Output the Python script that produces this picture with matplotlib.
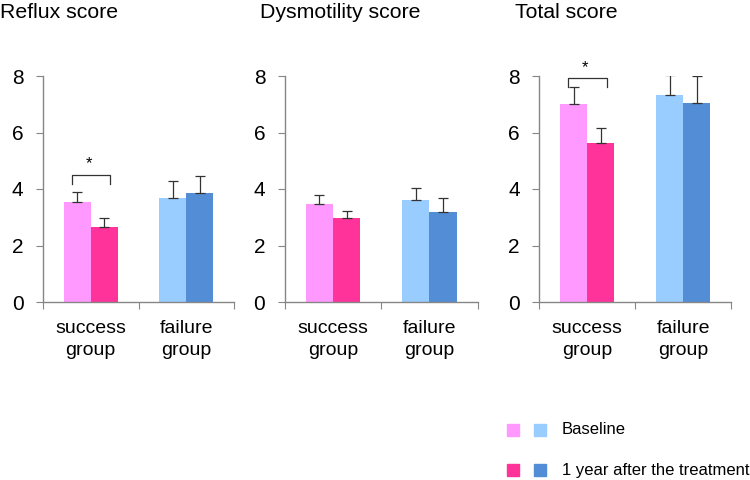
import matplotlib
matplotlib.use("Agg")
import matplotlib.pyplot as plt
import numpy as np

plt.rcParams['font.family'] = ['Liberation Sans', 'DejaVu Sans']

titles = ["Reflux score", "Dysmotility score", "Total score"]
categories = ["success\ngroup", "failure\ngroup"]
series = ["Baseline", "1 year after the treatment"]

# means [panel][group] for baseline and after
baseline = [[3.54, 3.69], [3.47, 3.61], [7.02, 7.34]]
after = [[2.67, 3.85], [2.96, 3.19], [5.64, 7.06]]
baseline_err = [[0.34, 0.58], [0.31, 0.44], [0.60, 0.71]]
after_err = [[0.29, 0.60], [0.27, 0.48], [0.53, 0.95]]
yticks = [0, 2, 4, 6, 8]

col_base = ["#FF99FF", "#99CCFF"]
col_after = ["#FF3399", "#538DD5"]
axcol = "#868686"

fig = plt.figure(figsize=(7.5, 4.8), dpi=100)
lefts = [43, 284.7, 539.3]
rights = [234, 477.7, 731]
bottom = 1 - 302 / 480
height = (302 - 76) / 480
title_x = [0, 260, 515]
w = 0.283

for i in range(3):
    ax = fig.add_axes([lefts[i] / 750, bottom, (rights[i] - lefts[i]) / 750, height])
    x = np.arange(len(categories))
    for g in range(2):
        xb = x[g] - w / 2
        xa = x[g] + w / 2
        ax.bar(xb, baseline[i][g], width=w, color=col_base[g], zorder=2)
        ax.bar(xa, after[i][g], width=w, color=col_after[g], zorder=2)
        ax.errorbar(xb, baseline[i][g], yerr=[[0], [baseline_err[i][g]]], fmt='none',
                    ecolor='#333333', elinewidth=0.9, capsize=3.5, capthick=0.9, zorder=3)
        ax.errorbar(xa, after[i][g], yerr=[[0], [after_err[i][g]]], fmt='none',
                    ecolor='#333333', elinewidth=0.9, capsize=3.5, capthick=0.9, zorder=3)
    ax.set_xlim(-0.5, 1.5)
    ax.set_ylim(0, 8)
    ax.set_yticks(yticks)
    ax.set_yticklabels([str(t) for t in yticks], fontsize=15)
    ax.set_xticks([-0.5, 0.5, 1.5], minor=False)
    ax.set_xticklabels([])
    ax.set_xticks([0, 1], minor=True)
    ax.set_xticklabels(categories, minor=True, fontsize=14, linespacing=1.35)
    ax.tick_params(axis='x', which='minor', length=0, pad=13)
    ax.tick_params(axis='x', which='major', direction='out', length=5, color=axcol)
    ax.tick_params(axis='y', direction='out', length=5, color=axcol, pad=9)
    for s in ['top', 'right']:
        ax.spines[s].set_visible(False)
    for s in ['left', 'bottom']:
        ax.spines[s].set_color(axcol)
        ax.spines[s].set_linewidth(1.0)
    fig.text(title_x[i] / 750, 1 - 13 / 480, titles[i], fontsize=15.3, va='center', ha='left')

    # significance bracket on success group
    if i in (0, 2):
        top = max(baseline[i][0] + baseline_err[i][0], after[i][0] + after_err[i][0])
        yb = top + 0.3 if i == 2 else baseline[i][0] + baseline_err[i][0] + 0.62
        yl = yb - 0.32
        xs = [-w / 2 - 0.06, w / 2 + 0.06]
        ax.plot([xs[0], xs[0], xs[1], xs[1]], [yl, yb, yb, yl], color='#333333', lw=0.9,
                clip_on=False, zorder=4)
        ax.text(0 - 0.02, yb + 0.12, "*", ha='center', va='bottom', fontsize=12, clip_on=False)

# legend
sq = 12
rows = [430, 470]
for r, (y, cs, lab) in enumerate(zip(rows, [col_base, col_after], series)):
    for k, xs in enumerate([507, 534]):
        fig.patches.append(plt.Rectangle((xs / 750, 1 - (y + sq / 2) / 480), sq / 750, sq / 480,
                                         transform=fig.transFigure, color=cs[k], figure=fig))
    fig.text(562 / 750, 1 - y / 480, lab, fontsize=12, va='center', ha='left')

fig.savefig("out.png", dpi=100)
